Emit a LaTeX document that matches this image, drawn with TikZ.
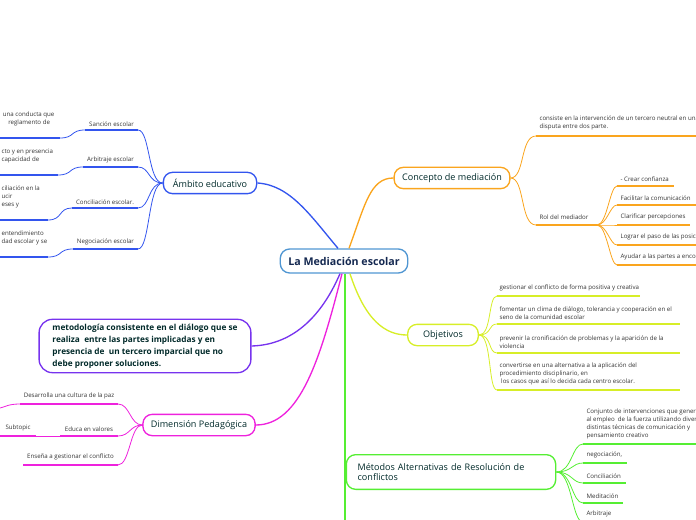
\documentclass[tikz,border=0pt]{standalone}
\usepackage{fontspec}
\setmainfont{Open Sans}
\usetikzlibrary{calc}
\begin{document}
\begin{tikzpicture}[x=0.75pt,y=-0.75pt,
 topic/.style={draw,rounded corners=7pt,line width=1pt,font=\fontsize{6.8}{8}\selectfont,text=black!20!teal!40!black,inner xsep=6pt,minimum height=16pt},
 sub/.style={font=\fontsize{4.6}{6}\selectfont,text=black!80,inner sep=1pt,align=left},
 ul/.style={line width=1.5pt},
 cn/.style={line width=0.6pt},
 bl/.style={color={rgb,255:red,51;green,85;blue,238}},
 orc/.style={color={rgb,255:red,250;green,165;blue,30}},
 yl/.style={color={rgb,255:red,215;green,238;blue,40}},
 gr/.style={color={rgb,255:red,85;green,238;blue,51}},
 pu/.style={color={rgb,255:red,119;green,51;blue,238}},
 mg/.style={color={rgb,255:red,238;green,34;blue,221}}]
\useasboundingbox (0,0) rectangle (696,520);
% central
\node[topic,draw={rgb,255:red,80;green,150;blue,210},text={rgb,255:red,20;green,40;blue,80},font=\fontsize{8}{10}\selectfont\bfseries,minimum width=94pt,minimum height=18pt] (c) at (344,261) {La Mediación escolar};
% main topics
\node[topic,bl,text=black!20!teal!40!black,minimum width=70pt] (amb) at (210,183) {Ámbito educativo};
\node[topic,orc,text=black!20!teal!40!black,minimum width=82pt] (con) at (452,178) {Concepto de mediación};
\node[topic,yl,text=black!20!teal!40!black,minimum width=53pt] (obj) at (443,335) {Objetivos};
\node[topic,gr,text=black!20!teal!40!black,minimum width=157pt,minimum height=26pt,align=left,text width=140pt] (met) at (451,472) {Métodos Alternativas de Resolución de\\conflictos};
\node[topic,pu,text=black!20!teal!40!black,font=\fontsize{6.2}{9}\selectfont\bfseries,rounded corners=10pt,align=left,minimum width=150pt,minimum height=40pt,inner xsep=10pt] (pur) at (145,346) {metodología consistente en el diálogo que se\\realiza\ \ entre las partes implicadas y en\\presencia de\ \ un tercero imparcial que no\\debe proponer soluciones.};
\node[topic,mg,text=black!20!teal!40!black,minimum width=84pt] (ped) at (199,425) {Dimensión Pedagógica};
% main connectors
\coordinate (c1) at ($(c.north)+(-6,0)$);
\coordinate (c2) at ($(c.north)+(5,0)$);
\coordinate (c3) at ($(c.south)+(6,0)$);
\coordinate (c4) at ($(c.south)+(1,0)$);
\coordinate (c5) at ($(c.south)+(-4,0)$);
\coordinate (c6) at ($(c.south)+(-2,0)$);
\draw[bl,line width=1pt] (c1) .. controls (310,215) and (290,185) .. (amb.east);
\draw[orc,line width=1pt] (c2) .. controls (365,205) and (370,178) .. (con.west);
\draw[yl,line width=1pt] (c3) .. controls (365,320) and (385,335) .. (obj.west);
\draw[gr,line width=1.2pt] (c4) -- (c4 |- met.west) -- (met.west);
\draw[gr,line width=1.2pt] (c4 |- met.west) -- ++(0,60);
\draw[pu,line width=1pt] (c5) .. controls (320,320) and (290,345) .. (pur.east);
\draw[mg,line width=1pt] (c6) .. controls (320,360) and (300,425) .. (ped.east);
% Ambito subtopics
\foreach \t/\y/\xl/\n in {Sanción escolar/130/85/a1,Arbitraje escolar/167/83/a2,Conciliación escolar./208/72/a3,Negociación escolar/249/73/a4}{
 \coordinate (\n r) at (138,\y); \coordinate (\n l) at (\xl,\y);
 \draw[bl,ul] (\n l) -- (\n r);
 \node[sub,anchor=south] at ($(\n l)!0.5!(\n r)+(0,-2)$) {\t};
 \draw[bl,cn] (amb.west) .. controls (148,183) and (150,\y) .. (\n r);
}
\foreach \y/\x/\n/\py in {138/60/a1/130,175/58/a2/167,220/48/a3/208,257/48/a4/249}{
 \coordinate (\n e) at (\x,\y);
 \draw[bl,ul] (0,\y) -- (\n e);
 \draw[bl,cn] (\n e) .. controls (\x+15,\y) and (\x+10,\py) .. (\n l);
}
\node[sub,anchor=south west] at (0,128) {\hspace*{1pt}una conducta que\\\hspace*{5pt}reglamento de};
\node[sub,anchor=south west] at (0,165) {cto y en presencia\\capacidad de};
\node[sub,anchor=south west] at (0,210) {ciliación en la\\ucir\\eses y};
\node[sub,anchor=south west] at (0,247) {entendimiento\\dad escolar y se};
% Concepto subtopics
\coordinate (k1) at (536,136); \coordinate (k2) at (536,225); \coordinate (k2r) at (597,225);
\draw[orc,ul] (k1) -- (696,136); \draw[orc,ul] (k2) -- (k2r);
\node[sub,anchor=south west] at (538,132) {consiste en la intervención de un tercero neutral en una\\disputa entre dos parte.};
\node[sub,anchor=south west] at (538,221) {Rol del mediador};
\draw[orc,cn] (con.east) .. controls (525,178) and (520,136) .. (k1);
\draw[orc,cn] (con.east) .. controls (525,178) and (520,225) .. (k2);
\foreach \t/\y/\xr in {- Crear confianza/186/674,Facilitar la comunicación/205/696,Clarificar percepciones/225/690,Lograr el paso de las posiciones/245/700,Ayudar a las partes a encontrar/265/700}{
 \coordinate (rr) at (\xr,\y);
 \coordinate (rl) at (617,\y);
 \draw[orc,ul] (rl) -- (rr);
 \node[sub,anchor=south west] at (619,\y-3) {\t};
 \draw[orc,cn] (k2r) .. controls (607,225) and (610,\y) .. (rl);
}
% Objetivos subtopics
\foreach \t/\y/\xr in {gestionar el conflicto de forma positiva y creativa/296/640,{fomentar un clima de diálogo, tolerancia y cooperación en el\\seno de la comunidad escolar}/324/680,{prevenir la cronificación de problemas y la aparición de la\\violencia}/353/680,{convertirse en una alternativa a la aplicación del\\procedimiento disciplinario, en\\\ los casos que así lo decida cada centro escolar.}/390/680}{
 \coordinate (or) at (\xr,\y);
 \coordinate (ol) at (497,\y);
 \draw[yl,ul] (ol) -- (or);
 \node[sub,anchor=south west] at (498,\y-3) {\t};
 \draw[yl,cn] (obj.east) .. controls (492,335) and (488,\y) .. (ol);
}
% Metodos subtopics
\foreach \t/\y/\xr in {{Conjunto de intervenciones que generan\\al empleo\ \ de la fuerza utilizando diversas\\distintas técnicas de comunicación y\\pensamiento creativo}/444/700,{negociación,}/463/627,Conciliación/483/626,Meditación/503/623,Arbitraje/522/630}{
 \coordinate (mr) at (\xr,\y);
 \coordinate (ml) at (583,\y);
 \draw[gr,ul] (ml) -- (mr);
 \node[sub,anchor=south west] at (585,\y-3) {\t};
 \draw[gr,cn] (met.east) .. controls (572,472) and (572,\y) .. (ml);
}
% Pedagogica subtopics
\foreach \t/\y/\xl/\n in {Desarrolla una cultura de la paz/404/20/p1,Educa en valores/436/60/p2,Enseña a gestionar el conflicto/465/23/p3}{
 \coordinate (\n r) at (118,\y); \coordinate (\n l) at (\xl,\y);
 \draw[mg,ul] (\n l) -- (\n r);
 \node[sub,anchor=south] at ($(\n l)!0.5!(\n r)+(0,-3)$) {\t};
 \draw[mg,cn] (ped.west) .. controls (130,425) and (130,\y) .. (\n r);
}
\coordinate (s1) at (36,436);
\coordinate (s0) at (0,436);
\coordinate (e0) at (0,408);
\draw[mg,ul] (s0) -- (s1);
\node[sub,anchor=south] at (18,433) {Subtopic};
\draw[mg,cn] (s1) -- (p2l);
\draw[mg,cn] (p1l) .. controls (8,404) and (5,407) .. (e0);
\end{tikzpicture}
\end{document}
